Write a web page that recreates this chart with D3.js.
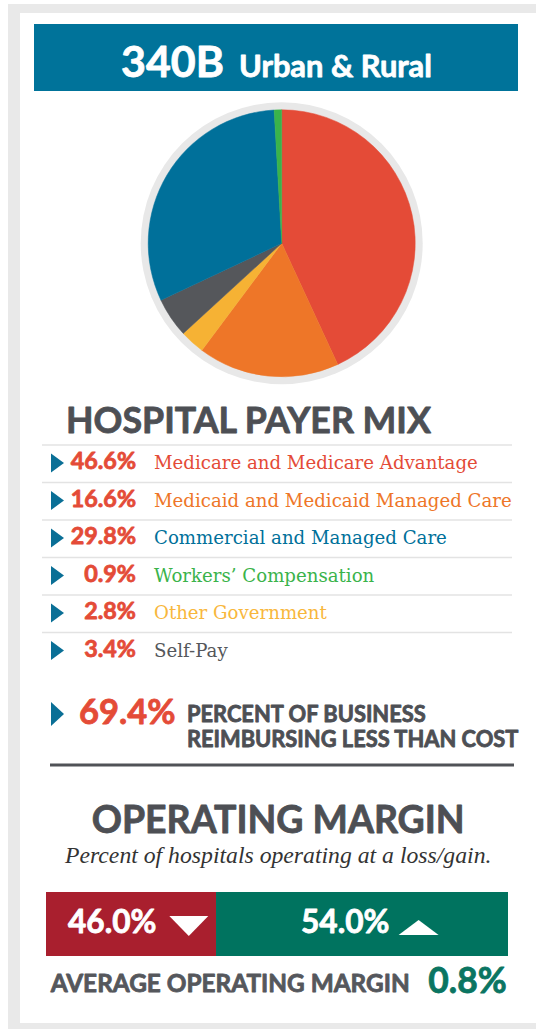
<!DOCTYPE html>
<html>
<head>
<meta charset="utf-8">
<script src="https://cdn.jsdelivr.net/npm/d3@7"></script>
<style>
body { margin: 0; background: #fff; }
svg { display: block; font-family: Lato, "Open Sans", sans-serif; }
.heavy { paint-order: stroke; stroke-width: 0.8px; stroke-linejoin: round; }
</style>
</head>
<body>
<svg id="chart" width="536" height="1029"></svg>
<script>
// payer mix, as printed in the list
var payerNames = ["Medicare and Medicare Advantage", "Medicaid and Medicaid Managed Care", "Commercial and Managed Care", "Workers\u2019 Compensation", "Other Government", "Self-Pay"];
var payerLabels = ["46.6%", "16.6%", "29.8%", "0.9%", "2.8%", "3.4%"];
var payerColors = ["#e44b37", "#ee7628", "#00709a", "#3ab34a", "#f6b234", "#55575b"];
var labelColors = ["#e44b37", "#ee7628", "#00709a", "#3ab34a", "#f8b73c", "#55575b"];

// pie slices in drawing order (clockwise from 12 o'clock), sizes
var pieNames = ["Medicare and Medicare Advantage", "Medicaid and Medicaid Managed Care", "Other Government", "Self-Pay", "Commercial and Managed Care", "Workers\u2019 Compensation"];
var pieShare = [43.1, 17.1, 3.0, 4.8, 31.1, 0.9];

// operating margin bar: labels and drawn segment sizes
var marginLabels = ["46.0%", "54.0%"];
var marginShare = [36.8, 63.2];
var marginColors = ["#a91f2e", "#00735f"];

var belowCost = "69.4%";
var avgMargin = "0.8%";

var dark = "#4d4f54";
var svg = d3.select("#chart");

function fit(sel, w) {
    var fs = parseFloat(sel.attr("font-size"));
    var len = sel.node().getComputedTextLength();
    var size = fs * w / len;
    sel.attr("font-size", size);
    return size;
}

// bold sans text, thickened a little with a stroke of its own colour
function bold(x, y, size, color, txt) {
    return svg.append("text").attr("class", "heavy").attr("x", x).attr("y", y)
        .attr("font-size", size).attr("font-weight", 700)
        .attr("fill", color).attr("stroke", color).text(txt);
}

// frame
svg.append("rect").attr("x", 8).attr("y", 4).attr("width", 540).attr("height", 1040).attr("fill", "#e9e9e9");
svg.append("rect").attr("x", 20).attr("y", 13).attr("width", 530).attr("height", 1010).attr("fill", "#fff");

// header
svg.append("rect").attr("x", 34).attr("y", 24).attr("width", 484).attr("height", 67).attr("fill", "#00739a");
fit(bold(121, 77, 40, "#fff", "340B"), 103);
fit(bold(239, 77, 28, "#fff", "Urban & Rural"), 193);

// pie
var cx = 281.7, cy = 243.3, r = 133.5;
var colorOf = d3.scaleOrdinal().domain(payerNames).range(payerColors);
var pie = d3.pie().sort(null).value(function(d) { return d.share; });
var arc = d3.arc().innerRadius(0).outerRadius(r);
var pieData = pieNames.map(function(n, i) { return { name: n, share: pieShare[i] }; });
var gPie = svg.append("g").attr("transform", "translate(" + cx + "," + cy + ")");
gPie.append("circle").attr("r", r + 7.5).attr("fill", "#e8e8e8");
gPie.selectAll("path").data(pie(pieData)).enter().append("path")
    .attr("d", arc)
    .attr("fill", function(d) { return colorOf(d.data.name); })
    .attr("stroke", function(d) { return colorOf(d.data.name); })
    .attr("stroke-width", 0.5);

// payer mix list
fit(bold(66, 433, 36, dark, "HOSPITAL PAYER MIX"), 365);

var rowY = d3.scaleBand().domain(payerNames).range([445, 670]);
var rows = svg.selectAll("g.row").data(payerNames).enter().append("g").attr("class", "row")
    .attr("transform", function(d) { return "translate(0," + rowY(d) + ")"; });
rows.append("line").attr("x1", 42).attr("x2", 512).attr("y1", 0).attr("y2", 0).attr("stroke", "#e3e3e3").attr("stroke-width", 1.5);
rows.append("path").attr("d", "M51,8.5L64,18L51,27.5Z").attr("fill", "#0a6f96");
var pct = rows.append("text").attr("class", "heavy").attr("x", 136).attr("y", 24).attr("text-anchor", "end")
    .attr("font-size", 20).attr("font-weight", 700).attr("fill", "#e44b37").attr("stroke", "#e44b37")
    .text(function(d, i) { return payerLabels[i]; });
var pctSize = fit(d3.select(pct.nodes()[0]), 65.3);
pct.attr("font-size", pctSize);
var lab = rows.append("text").attr("x", 154).attr("y", 24)
    .style("font-family", "'DejaVu Serif', serif").attr("font-size", 18)
    .attr("fill", function(d, i) { return labelColors[i]; })
    .text(function(d) { return d; });
var labSize = fit(d3.select(lab.nodes()[0]), 324);
lab.attr("font-size", labSize);

// below cost
svg.append("path").attr("d", "M51,702L64,714L51,726Z").attr("fill", "#0a6f96");
fit(bold(79, 724, 28, "#e44b37", belowCost), 96.5);
var bSize = fit(bold(187, 746.7, 18, dark, "REIMBURSING LESS THAN COST"), 331.6);
bold(187, 721.7, bSize, dark, "PERCENT OF BUSINESS");
svg.append("line").attr("x1", 50).attr("x2", 514).attr("y1", 765).attr("y2", 765).attr("stroke", "#505257").attr("stroke-width", 3);

// operating margin
fit(bold(91.7, 833, 36, dark, "OPERATING MARGIN"), 373);
var sub = svg.append("text").attr("x", 65).attr("y", 862.5).style("font-family", "'Liberation Serif', serif").attr("font-style", "italic")
    .attr("font-size", 20).attr("fill", "#333").text("Percent of hospitals operating at a loss/gain.");
fit(sub, 426.7);

var mx = d3.scaleLinear().domain([0, 100]).range([46, 508]);
var cum = 0;
var segs = marginShare.map(function(v, i) {
    var s = { x0: cum, x1: cum + v, label: marginLabels[i], color: marginColors[i], up: i === 1 };
    cum += v;
    return s;
});
var gBar = svg.append("g");
gBar.selectAll("rect").data(segs).enter().append("rect")
    .attr("x", function(d) { return mx(d.x0); })
    .attr("width", function(d) { return mx(d.x1) - mx(d.x0); })
    .attr("y", 892).attr("height", 64)
    .attr("fill", function(d) { return d.color; });
var segText = gBar.selectAll("text").data(segs).enter().append("text").attr("class", "heavy")
    .attr("x", function(d) { return mx(d.x0) + (d.up ? 85 : 22); })
    .attr("y", 933).attr("font-size", 30).attr("font-weight", 700).attr("fill", "#fff").attr("stroke", "#fff")
    .text(function(d) { return d.label; });
var segSize = fit(d3.select(segText.nodes()[0]), 88.4);
segText.attr("font-size", segSize);
gBar.selectAll("path").data(segs).enter().append("path")
    .attr("transform", function(d) { return "translate(" + (mx(d.x0) + (d.up ? 182.6 : 123.3)) + "," + (d.up ? 920 : 916) + ")"; })
    .attr("d", function(d) { return d.up ? "M0,15L20,0L40,15Z" : "M0,0L39,0L19.5,20Z"; })
    .attr("fill", "#fff");

fit(bold(50.7, 991.7, 24, "#55575c", "AVERAGE OPERATING MARGIN"), 359.3);
fit(bold(428.3, 993, 32, "#0a7562", avgMargin), 78.4);
</script>
</body>
</html>
